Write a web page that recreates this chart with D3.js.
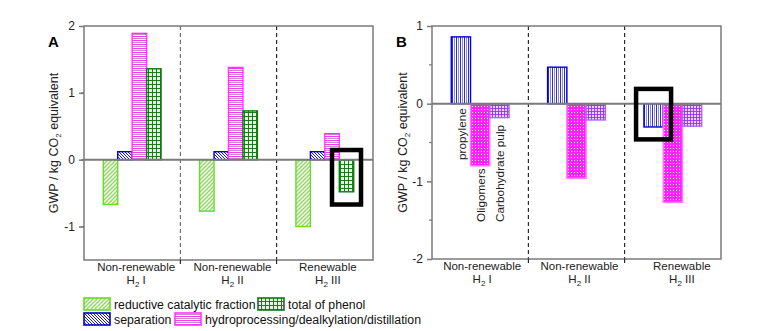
<!DOCTYPE html>
<html>
<head>
<meta charset="utf-8">
<script src="https://d3js.org/d3.v7.min.js"></script>
<style>
  body { margin: 0; background: #fff; }
  svg text { font-family: "Liberation Sans", Arial, sans-serif; }
</style>
</head>
<body>
<div id="chart"></div>
<script>
// data ....................................
var groups = ['g1', 'g2', 'g3'];
var groupLine1 = ['Non-renewable', 'Non-renewable', 'Renewable'];
var groupLine2 = ['I', 'II', 'III'];

var seriesA = ['reductive catalytic fraction', 'separation', 'hydroprocessing/dealkylation/distillation', 'total of phenol'];
var rcfA    = [-0.67, -0.77, -1.00];
var sepA    = [0.12, 0.12, 0.12];
var hydroA  = [1.89, 1.38, 0.39];
var phenolA = [1.36, 0.73, -0.48];
var ticksA  = [-1, 0, 1, 2];

var seriesB = ['propylene', 'Oligomers', 'Carbohydrate pulp'];
var propB   = [0.86, 0.47, -0.30];
var oligoB  = [-0.80, -0.96, -1.27];
var pulpB   = [-0.18, -0.21, -0.29];
var ticksB  = [-2, -1, 0, 1];

var W = 757, H = 331;
var svg = d3.select('#chart').append('svg').attr('width', W).attr('height', H);
var defs = svg.append('defs');

// patterns ..................................
function pat(id, w, h, bg) {
  var p = defs.append('pattern').attr('id', id).attr('patternUnits', 'userSpaceOnUse')
    .attr('width', w).attr('height', h);
  p.append('rect').attr('width', w).attr('height', h).attr('fill', bg || '#fff');
  return p;
}
var p1 = pat('pGreen', 4, 4);
p1.append('path').attr('d', 'M-1,5 L5,-1 M-1,1 L1,-1 M3,5 L5,3').attr('stroke', '#8ed65a').attr('stroke-width', 1.3);
var p2 = pat('pBlue', 3, 3);
p2.append('path').attr('d', 'M-1,-1 L4,4 M-1,2 L1,4 M2,-1 L4,1').attr('stroke', '#1a1acc').attr('stroke-width', 1);
var p3 = pat('pMag', 4, 4);
p3.append('rect').attr('y', 0).attr('width', 4).attr('height', 1).attr('fill', '#ff33ff');
p3.append('rect').attr('y', 2).attr('width', 4).attr('height', 1).attr('fill', '#c090c0');
var p4 = pat('pDkGreen', 4, 4, '#e6f2e6');
p4.append('path').attr('d', 'M0,0.5 H4 M0.5,0 V4').attr('stroke', '#1f7a1f').attr('stroke-width', 1);
var p5 = pat('pBlueV', 4, 4);
p5.append('rect').attr('x', 0).attr('width', 1).attr('height', 4).attr('fill', '#2a2aee');
p5.append('rect').attr('x', 2).attr('width', 1).attr('height', 4).attr('fill', '#8c8ce6');
var p6 = pat('pCheck', 3, 3, '#ff22ff');
p6.append('rect').attr('x', 1).attr('y', 1).attr('width', 1).attr('height', 1).attr('fill', '#fff');
var p7 = pat('pPurple', 3, 3, '#e9d6ff');
p7.append('path').attr('d', 'M0,0.5 H3 M0.5,0 V3').attr('stroke', '#9c3cf0').attr('stroke-width', 1);

var styleA = [
  {fill: 'url(#pGreen)', stroke: '#66dd22'},
  {fill: 'url(#pBlue)', stroke: '#0000cc'},
  {fill: 'url(#pMag)', stroke: '#ff33ff'},
  {fill: 'url(#pDkGreen)', stroke: '#117711'}
];
var styleB = [
  {fill: 'url(#pBlueV)', stroke: '#0000dd'},
  {fill: 'url(#pCheck)', stroke: '#ff77ff'},
  {fill: 'url(#pPurple)', stroke: '#aa66ff'}
];

// panel drawing .............................
function panel(opt) {
  var g = svg.append('g');
  var x = d3.scaleBand().domain(groups).range([opt.x0, opt.x1]);
  var bw = x.bandwidth();
  var xs = d3.scaleBand().domain(d3.range(opt.values.length)).range([bw * 0.2, bw * 0.8]);
  var y = d3.scaleLinear().domain(opt.domain).range([opt.y1, opt.y0]);

  // separators
  g.selectAll('.sep').data(groups.slice(1)).enter().append('line')
    .attr('x1', d => x(d)).attr('x2', d => x(d))
    .attr('y1', opt.y0).attr('y2', opt.y1)
    .attr('stroke', (d, i) => opt.sepColors[i]).attr('stroke-dasharray', '4,3').attr('stroke-width', 1);

  // bars
  opt.values.forEach(function(vals, si) {
    g.selectAll('.b' + si).data(vals).enter().append('rect')
      .attr('x', (d, i) => x(groups[i]) + xs(si))
      .attr('width', xs.bandwidth())
      .attr('y', d => y(Math.max(0, d)))
      .attr('height', d => Math.abs(y(d) - y(0)))
      .attr('fill', opt.styles[si].fill)
      .attr('stroke', opt.styles[si].stroke)
      .attr('stroke-width', 1.4);
  });

  // zero line
  g.append('line').attr('x1', opt.x0).attr('x2', opt.x1)
    .attr('y1', y(0)).attr('y2', y(0)).attr('stroke', '#7a7a7a').attr('stroke-width', 2);

  // frame
  g.append('rect').attr('x', opt.x0).attr('y', opt.y0)
    .attr('width', opt.x1 - opt.x0).attr('height', opt.y1 - opt.y0)
    .attr('fill', 'none').attr('stroke', '#7a7a7a').attr('stroke-width', 1.5);

  // y axis
  var yAxis = d3.axisLeft(y).tickValues(opt.ticks).tickSize(5).tickPadding(4).tickFormat(d3.format('d'));
  var ya = g.append('g').attr('transform', 'translate(' + opt.x0 + ',0)').call(yAxis);
  ya.select('.domain').remove();
  ya.selectAll('line').attr('stroke', '#7a7a7a').attr('stroke-width', 1.5);
  ya.selectAll('text').attr('font-size', 12).attr('fill', '#222')
    .style('font-family', '"Liberation Sans", Arial, sans-serif')
    .text(d => d < 0 ? '-' + Math.abs(d) : d);
  var minor = d3.range(opt.domain[0] + 0.5, opt.domain[1], 1);
  g.selectAll('.minor').data(minor).enter().append('line')
    .attr('x1', opt.x0 - 3).attr('x2', opt.x0)
    .attr('y1', d => y(d)).attr('y2', d => y(d))
    .attr('stroke', '#7a7a7a').attr('stroke-width', 1.2);

  // bottom ticks at separators
  g.selectAll('.bt').data(groups.slice(1)).enter().append('line')
    .attr('x1', d => x(d)).attr('x2', d => x(d))
    .attr('y1', opt.y1).attr('y2', opt.y1 + 4)
    .attr('stroke', '#000').attr('stroke-width', 1);

  // group labels
  var lab = g.selectAll('.gl').data(groups).enter().append('g')
    .attr('transform', (d, i) => 'translate(' + (x(d) + bw / 2 + opt.labShift[i]) + ',0)');
  lab.append('text').attr('y', opt.y1 + 11).attr('text-anchor', 'middle')
    .attr('font-size', 11.5).attr('fill', '#222').text((d, i) => groupLine1[i]);
  var t2 = lab.append('text').attr('y', opt.y1 + 24).attr('text-anchor', 'middle')
    .attr('font-size', 11.5).attr('fill', '#222');
  t2.append('tspan').text('H');
  t2.append('tspan').attr('font-size', 8).attr('dy', 3).text('2');
  t2.append('tspan').attr('dy', -3).text((d, i) => '\u00a0' + groupLine2[i]);

  // y label
  var yl = g.append('text')
    .attr('transform', 'translate(' + opt.labX + ',' + ((opt.y0 + opt.y1) / 2) + ') rotate(-90)')
    .attr('text-anchor', 'middle').attr('font-size', 12.5).attr('fill', '#222');
  yl.append('tspan').text('GWP / kg CO');
  yl.append('tspan').attr('font-size', 8).attr('dy', 3).text('2');
  yl.append('tspan').attr('dy', -3).text(' equivalent');

  // panel letter
  g.append('text').attr('x', opt.letterX).attr('y', 47)
    .attr('font-size', 15).attr('font-weight', 'bold').attr('fill', '#000').text(opt.letter);

  // highlight box
  var hb = opt.box;
  var bx = x(groups[hb.group]) + xs(hb.series) + xs.bandwidth() / 2;
  g.append('rect').attr('x', bx - hb.w / 2).attr('width', hb.w)
    .attr('y', y(hb.top)).attr('height', y(hb.bottom) - y(hb.top))
    .attr('fill', 'none').attr('stroke', '#000').attr('stroke-width', 4.5);

  return {x: x, xs: xs, y: y};
}

panel({
  letter: 'A', letterX: 48, x0: 84, x1: 373, y0: 26, y1: 260, domain: [-1.5, 2],
  values: [rcfA, sepA, hydroA, phenolA], styles: styleA, ticks: ticksA,
  sepColors: ['#555', '#000'],
  labShift: [4, 4, 3], labX: 58,
  box: {group: 2, series: 3, w: 29, top: 0.145, bottom: -0.67}
});

var pb = panel({
  letter: 'B', letterX: 396, x0: 432, x1: 721, y0: 26, y1: 259, domain: [-2, 1],
  values: [propB, oligoB, pulpB], styles: styleB, ticks: ticksB,
  sepColors: ['#000', '#000'],
  labShift: [2, 3, 9], labX: 407,
  box: {group: 2, series: 0, w: 35, top: 0.19, bottom: -0.46}
});

// rotated series labels in panel B, first group
var labPos = [160, 222, 222];
svg.selectAll('.sl').data(seriesB).enter().append('text')
  .attr('transform', (d, i) => 'translate(' + (pb.x(groups[0]) + pb.xs(i) + pb.xs.bandwidth() / 2 + 5) + ',' + labPos[i] + ') rotate(-90)')
  .attr('font-size', 11.8).attr('fill', '#222').text(d => d);

// legend ......................................
var legItems = [
  {t: seriesA[0], s: styleA[0], x: 83, y: 297},
  {t: seriesA[3], s: styleA[3], x: 257, y: 297},
  {t: seriesA[1], s: styleA[1], x: 83, y: 312},
  {t: seriesA[2], s: styleA[2], x: 174, y: 312}
];
var leg = svg.selectAll('.leg').data(legItems).enter().append('g')
  .attr('transform', d => 'translate(' + d.x + ',' + d.y + ')');
leg.append('rect').attr('x', 1).attr('y', 1).attr('width', 26).attr('height', 12)
  .attr('fill', d => d.s.fill).attr('stroke', d => d.s.stroke).attr('stroke-width', 1.6);
leg.append('text').attr('x', 31).attr('y', 11.5).attr('font-size', 12.3).attr('fill', '#111').text(d => d.t);
</script>
</body>
</html>
